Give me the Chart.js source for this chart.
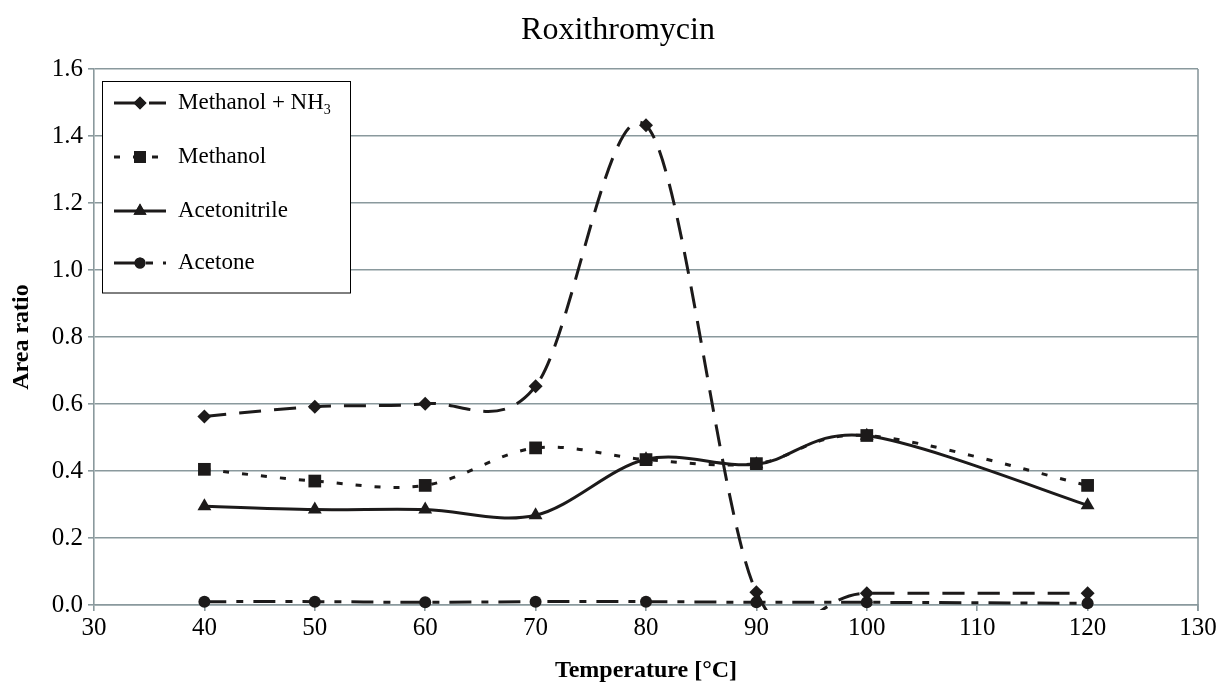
<!DOCTYPE html>
<html>
<head>
<meta charset="utf-8">
<script src="https://cdn.jsdelivr.net/npm/chart.js@4.4.1/dist/chart.umd.min.js"></script>
<style>
  html, body { margin: 0; padding: 0; background: #fff; }
  .can-con { width: 1221px; height: 684px; position: relative; }
</style>
</head>
<body>
<div class="can-con"><canvas id="myChart"></canvas></div>
<script>
// values
const temperatures = [40, 50, 60, 70, 80, 90, 100, 120];
const methanolNH3 = [0.563, 0.592, 0.601, 0.653, 1.432, 0.038, 0.035, 0.035];
const methanol = [0.405, 0.370, 0.357, 0.469, 0.434, 0.422, 0.506, 0.357];
const acetonitrile = [0.295, 0.285, 0.285, 0.268, 0.435, 0.420, 0.505, 0.298];
const acetone = [0.010, 0.010, 0.008, 0.010, 0.010, 0.008, 0.008, 0.005];
const seriesLabels = ["Methanol + NH₃", "Methanol", "Acetonitrile", "Acetone"];
const chartTitle = "Roxithromycin";
const xTitle = "Temperature [°C]";
const yTitle = "Area ratio";

const serif = "'Liberation Serif', 'Times New Roman', serif";
const ink = "#1c1a1a";
const gridGray = "#8a999d";

const toPoints = (values) => temperatures.map((t, i) => ({ x: t, y: values[i] }));

const makeSet = (label, values, style, radius, dash) => ({
  label: label,
  data: toPoints(values),
  borderColor: ink,
  backgroundColor: ink,
  borderWidth: 3,
  borderDash: dash,
  pointStyle: style,
  pointRadius: radius,
  pointBorderWidth: 0,
  pointBackgroundColor: ink,
  tension: 0.4,
  fill: false,
  clip: 5,
});

let ctx = document.getElementById("myChart");

// office-style smoothing: control points at 1/6 of the neighbour chord
const officeSmooth = {
  id: "officeSmooth",
  beforeDatasetsDraw: function (chart) {
    chart.data.datasets.forEach((ds, d) => {
      const meta = chart.getDatasetMeta(d);
      if (!meta.dataset) return;
      meta.dataset.updateControlPoints(chart.chartArea, "x");
      const pts = meta.data;
      for (let i = 0; i < pts.length; i++) {
        const prev = pts[i - 1] || pts[i];
        const next = pts[i + 1] || pts[i];
        const dx = (next.x - prev.x) / 6;
        const dy = (next.y - prev.y) / 6;
        pts[i].cp1x = pts[i].x - dx;
        pts[i].cp1y = pts[i].y - dy;
        pts[i].cp2x = pts[i].x + dx;
        pts[i].cp2y = pts[i].y + dy;
      }
    });
  },
};

// legend box drawn inside the plot (top-left), with NH3 subscript
const boxLegend = {
  id: "boxLegend",
  afterDraw: function (chart) {
    const c = chart.ctx;
    const left = 102.5, top = 81.5, w = 248, h = 211.5;
    const rows = [103, 157, 211, 263];
    c.save();
    c.fillStyle = "#fff";
    c.fillRect(left, top, w, h);
    c.strokeStyle = "#000";
    c.lineWidth = 1;
    c.strokeRect(left, top, w, h);

    chart.data.datasets.forEach((ds, i) => {
      const y = rows[i];
      c.strokeStyle = ink;
      c.lineWidth = 3;
      c.setLineDash(ds.borderDash || []);
      c.beginPath();
      c.moveTo(114, y);
      c.lineTo(166, y);
      c.stroke();
      c.setLineDash([]);
      c.fillStyle = ink;
      Chart.helpers.drawPoint(c, { pointStyle: ds.pointStyle, radius: ds.pointRadius - 0.5, rotation: 0, borderWidth: 0 }, 140, y);
      c.fill();

      c.fillStyle = "#000";
      c.textBaseline = "middle";
      c.textAlign = "left";
      c.font = "23px " + serif;
      const parts = ds.label.split("₃");
      c.fillText(parts[0], 178, y);
      if (parts.length > 1) {
        const wMain = c.measureText(parts[0]).width;
        c.font = "14px " + serif;
        c.fillText("3", 178 + wMain, y + 7);
      }
    });
    c.restore();
  },
};

// chart title and right border of the plot area
const frame = {
  id: "frame",
  beforeDatasetsDraw: function (chart) {
    const a = chart.chartArea;
    const c = chart.ctx;
    c.save();
    c.strokeStyle = gridGray;
    c.lineWidth = 1.6;
    c.beginPath();
    c.moveTo(a.right, a.top);
    c.lineTo(a.right, a.bottom + 6);
    c.stroke();
    c.restore();
  },
  afterDraw: function (chart) {
    const c = chart.ctx;
    c.save();
    c.fillStyle = "#000";
    c.font = "32px " + serif;
    c.textAlign = "center";
    c.textBaseline = "alphabetic";
    c.fillText(chartTitle, 618, 38.5);
    c.restore();
  },
};

var config = {
  type: "line",
  data: {
    datasets: [
      makeSet(seriesLabels[0], methanolNH3, "rectRot", 7, [22, 13]),
      makeSet(seriesLabels[1], methanol, "rect", 9, [6, 13]),
      makeSet(seriesLabels[2], acetonitrile, "triangle", 8, []),
      makeSet(seriesLabels[3], acetone, "circle", 6, [22, 10, 7, 10]),
    ],
  },
  options: {
    responsive: true,
    maintainAspectRatio: false,
    animation: false,
    layout: { padding: { top: 69, right: 23, left: 0, bottom: 0 } },
    elements: { line: { capBezierPoints: false } },
    scales: {
      x: {
        type: "linear",
        min: 30,
        max: 130,
        afterFit: (scale) => { scale.height = 79; },
        ticks: { stepSize: 10, color: "#000", font: { family: serif, size: 25 }, padding: 2 },
        grid: { drawOnChartArea: false, drawTicks: true, tickLength: 6, color: gridGray, lineWidth: 1.6 },
        border: { color: gridGray, width: 1.6 },
        title: {
          display: true,
          text: xTitle,
          color: "#000",
          font: { family: serif, size: 24, weight: "bold", lineHeight: 1 },
          padding: { top: 0, bottom: 1 },
        },
      },
      y: {
        min: 0,
        max: 1.6,
        afterFit: (scale) => { scale.width = 94; },
        ticks: {
          stepSize: 0.2,
          color: "#000",
          font: { family: serif, size: 25 },
          padding: 5,
          callback: (v) => v.toFixed(1),
        },
        grid: { color: gridGray, lineWidth: 1.6, drawTicks: true, tickLength: 6 },
        border: { color: gridGray, width: 1.6 },
        title: {
          display: true,
          text: yTitle,
          color: "#000",
          font: { family: serif, size: 24, weight: "bold", lineHeight: 1 },
          padding: { top: 10, bottom: 0 },
        },
      },
    },
    plugins: {
      legend: { display: false },
      tooltip: { enabled: false },
    },
  },
  plugins: [frame, officeSmooth, boxLegend],
};

const myChart = new Chart(ctx, config);
</script>
</body>
</html>
